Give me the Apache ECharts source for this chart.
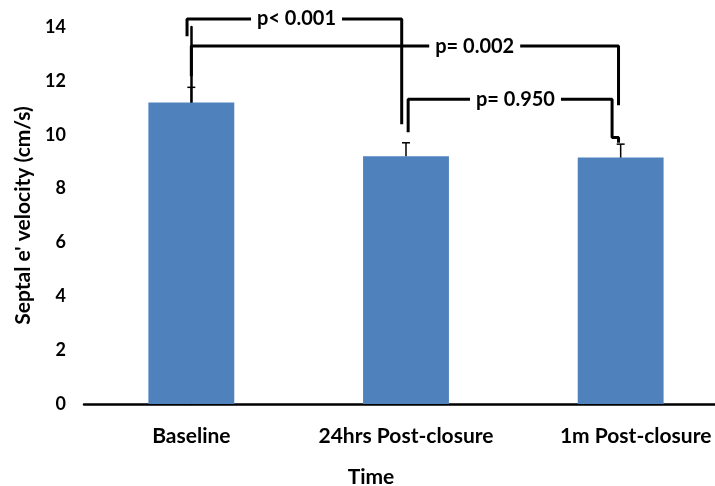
<!DOCTYPE html>
<html><head><meta charset="utf-8">
<script src="https://cdn.jsdelivr.net/npm/echarts@6/dist/echarts.min.js"></script>
<style>html,body{margin:0;padding:0;background:#fff}#c{width:715px;height:486px}</style>
</head><body><div id="c"></div>
<script>
const categories = ['Baseline', '24hrs Post-closure', '1m Post-closure'];
const means = [11.2, 9.2, 9.15];
const errors = [0.56, 0.5, 0.5];
const yTicks = [0, 2, 4, 6, 8, 10, 12, 14];
// significance brackets in data coordinates (x = category index)
const bracket1 = [[-0.02, 13.66], [-0.02, 14.3], [0.98, 14.3], [0.98, 10.39]];
const bracket2 = [[0, 12.17], [0, 13.29], [1.99, 13.29], [1.99, 11.09]];
const bracket3 = [[1.01, 10.09], [1.01, 11.32], [1.96, 11.32], [1.96, 9.9], [1.99, 9.9], [1.99, 9.7]];
const pLabels = [
  { value: [0.49, 14.3], text: 'p< 0.001' },
  { value: [1.32, 13.29], text: 'p= 0.002' },
  { value: [1.51, 11.32], text: 'p= 0.950' }
];

const FONT = 'Lato';
const chart = echarts.init(document.getElementById('c'));
function bracketSeries(pts) {
  return {
    type: 'line', xAxisIndex: 1, data: pts, symbol: 'none', clip: false,
    lineStyle: { color: '#000', width: 3 }, silent: true, z: 5, animation: false
  };
}
chart.setOption({
  animation: false,
  grid: { left: 84, right: -13, top: 27, bottom: 82, outerBoundsMode: 'none', containLabel: false },
  xAxis: [{
    type: 'category', data: categories.map((c, i) => i === 2 ? { value: c, textStyle: { padding: [0, 0, 0, 30] } } : c),
    axisLine: { lineStyle: { color: '#000', width: 2.5 } },
    axisTick: { show: false },
    axisLabel: { interval: 0, hideOverlap: false, fontFamily: FONT, fontWeight: 'bold', fontSize: 21, color: '#000', margin: 22 },
    name: 'Time', nameLocation: 'middle', nameGap: 63,
    nameTextStyle: { fontFamily: FONT, fontWeight: 'bold', fontSize: 21, color: '#000', padding: [0, 70, 0, 0] }
  }, {
    type: 'value', min: -0.5, max: 2.5, show: false
  }],
  yAxis: {
    type: 'value', min: 0, max: 14, interval: 2,
    axisLine: { show: true, lineStyle: { color: '#000', width: 2.5 } },
    axisTick: { show: false }, splitLine: { show: false },
    axisLabel: { fontFamily: FONT, fontWeight: 'bold', fontSize: 18, color: '#000', margin: 18,
      formatter: v => yTicks.includes(v) ? String(v) : '' },
    name: "Septal e' velocity (cm/s)", nameLocation: 'middle', nameGap: 50,
    nameTextStyle: { fontFamily: FONT, fontWeight: 'bold', fontSize: 21, color: '#000' }
  },
  series: [{
    type: 'bar', data: means, barWidth: '40%', itemStyle: { color: '#4F81BD' }
  }, {
    type: 'custom', data: means.map((m, i) => [i, m, m + errors[i]]), z: 4,
    renderItem: (params, api) => {
      const x = api.value(0);
      const p0 = api.coord([x, api.value(1)]);
      const p1 = api.coord([x, api.value(2)]);
      return { type: 'group', children: [
        { type: 'line', shape: { x1: p0[0], y1: p0[1], x2: p1[0], y2: p1[1] }, style: { stroke: '#000', lineWidth: 1.5 } },
        { type: 'line', shape: { x1: p1[0] - 4, y1: p1[1], x2: p1[0] + 4, y2: p1[1] }, style: { stroke: '#000', lineWidth: 1.5 } }
      ]};
    }
  },
  bracketSeries(bracket1), bracketSeries(bracket2), bracketSeries(bracket3),
  {
    type: 'scatter', xAxisIndex: 1, symbolSize: 0, clip: false, z: 6,
    itemStyle: { opacity: 1 },
    data: pLabels.map(p => ({ value: p.value, name: p.text })),
    label: { show: true, position: 'inside', formatter: p => p.name,
      fontFamily: FONT, fontWeight: 'bold', fontSize: 20, color: '#000',
      backgroundColor: '#fff', padding: [1, 6] }
  }]
});
</script></body></html>
